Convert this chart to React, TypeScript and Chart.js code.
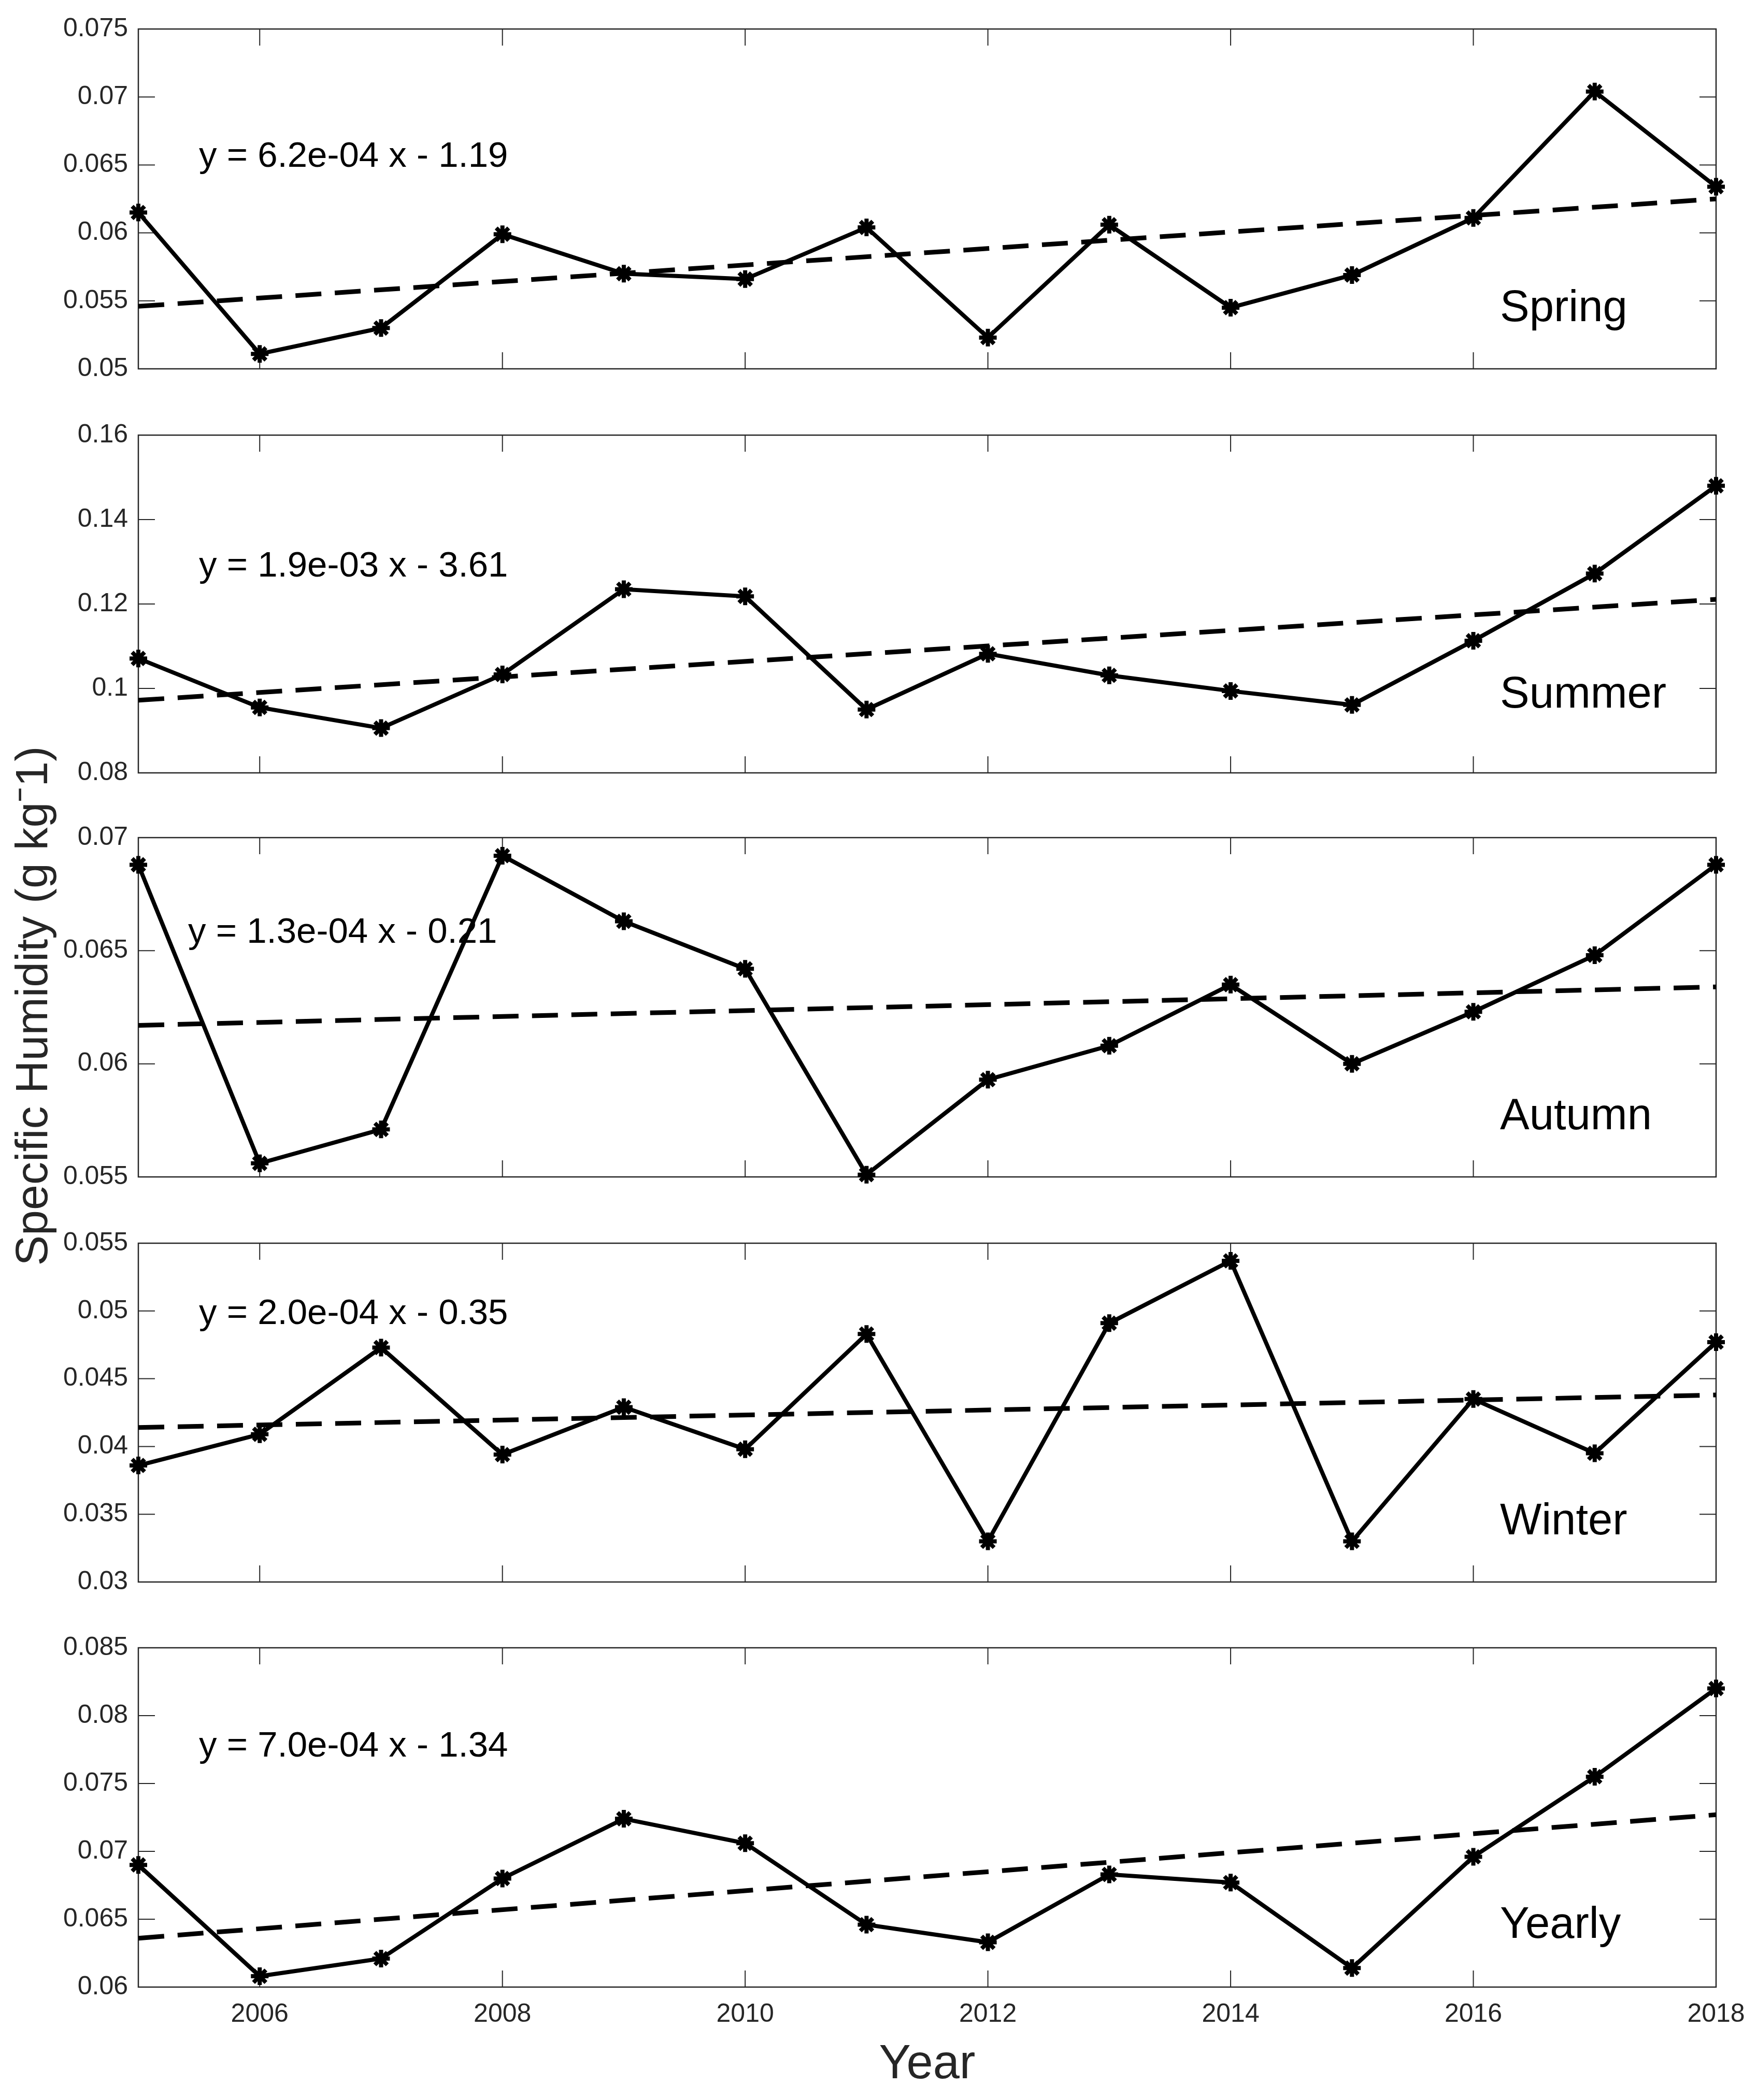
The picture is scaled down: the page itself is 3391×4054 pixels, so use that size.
import React, { useEffect, useRef } from 'react';
import { Chart, registerables } from 'chart.js';

Chart.register(...registerables);
Chart.defaults.font.family = '"Liberation Sans", Arial, Helvetica, sans-serif';

// ---------------- data ----------------
const years = [2005, 2006, 2007, 2008, 2009, 2010, 2011, 2012, 2013, 2014, 2015, 2016, 2017, 2018];

const spring = [0.0615, 0.0511, 0.0530, 0.0599, 0.0570, 0.0566, 0.0604, 0.0523, 0.0606, 0.0545, 0.0569, 0.0611, 0.0704, 0.0634];
const summer = [0.1071, 0.0955, 0.0906, 0.1033, 0.1235, 0.1218, 0.0950, 0.1082, 0.1031, 0.0994, 0.0961, 0.1113, 0.1272, 0.1480];
const autumn = [0.0688, 0.0556, 0.0571, 0.0692, 0.0663, 0.0642, 0.0551, 0.0593, 0.0608, 0.0635, 0.0600, 0.0623, 0.0648, 0.0688];
const winter = [0.0386, 0.0409, 0.0473, 0.0394, 0.0429, 0.0398, 0.0483, 0.0330, 0.0491, 0.0537, 0.0330, 0.0435, 0.0395, 0.0477];
const yearly = [0.0690, 0.0608, 0.0621, 0.0680, 0.0724, 0.0706, 0.0646, 0.0633, 0.0683, 0.0677, 0.0614, 0.0696, 0.0755, 0.0820];

const seriesList = [spring, summer, autumn, winter, yearly];
const seasonNames = ['Spring', 'Summer', 'Autumn', 'Winter', 'Yearly'];
const equations = [
  'y = 6.2e-04 x - 1.19',
  'y = 1.9e-03 x - 3.61',
  'y = 1.3e-04 x - 0.21',
  'y = 2.0e-04 x - 0.35',
  'y = 7.0e-04 x - 1.34',
];

// linear trend end points (value at 2005 and at 2018)
const trendStart = [0.0546, 0.0972, 0.0617, 0.0414, 0.0636];
const trendEnd = [0.0625, 0.1211, 0.0634, 0.0438, 0.0727];

const springTicks = [0.05, 0.055, 0.06, 0.065, 0.07, 0.075];
const summerTicks = [0.08, 0.1, 0.12, 0.14, 0.16];
const autumnTicks = [0.055, 0.06, 0.065, 0.07];
const winterTicks = [0.03, 0.035, 0.04, 0.045, 0.05, 0.055];
const yearlyTicks = [0.06, 0.065, 0.07, 0.075, 0.08, 0.085];
const yTickList = [springTicks, summerTicks, autumnTicks, winterTicks, yearlyTicks];

const xTicks = [2006, 2008, 2010, 2012, 2014, 2016, 2018];
const xMin = 2005;
const xMax = 2018;

const xLabel = 'Year';
const yLabel = 'Specific Humidity (g kg\u207B1)';

// ---------------- layout ----------------
const W = 3391;
const H = 4054;
const PLOT_LEFT = 267;
const PLOT_RIGHT = 3312;
const panelTops = [56, 840, 1617, 2400, 3181];
const panelBottoms = [712, 1492, 2272, 3054, 3836];
const TOP_MARGIN = 50;
const eqXOff = [117, 117, 96, 117, 117];
const eqBaseOff = [266, 273, 203, 156, 210];
const seasonX = 2895;
const seasonBaseOff = [564, 526, 563, 562, 560];

const FONT = '"Liberation Sans", Arial, Helvetica, sans-serif';
const AXIS_COLOR = '#262626';

function fmt(v: number): string {
  return parseFloat(v.toFixed(4)).toString();
}

function Panel({ idx }: { idx: number }) {
  const ref = useRef<HTMLCanvasElement | null>(null);
  const isLast = idx === seriesList.length - 1;
  const bottomMargin = isLast ? H - panelBottoms[idx] : 50;
  const canvasTop = panelTops[idx] - TOP_MARGIN;
  const canvasH = panelBottoms[idx] - panelTops[idx] + TOP_MARGIN + bottomMargin;

  useEffect(() => {
    const canvas = ref.current;
    if (!canvas) return;
    const series = seriesList[idx];
    const yTicks = yTickList[idx];

    const framePlugin = {
      id: 'frame' + idx,
      beforeDatasetsDraw(chart: any) {
        const { ctx, chartArea: a, scales } = chart;
        const x = scales.x;
        const y = scales.y;
        ctx.save();
        ctx.strokeStyle = AXIS_COLOR;
        ctx.lineWidth = 2.5;
        ctx.strokeRect(a.left, a.top, a.right - a.left, a.bottom - a.top);
        ctx.lineWidth = 2;
        ctx.beginPath();
        const tl = 32;
        for (const v of xTicks) {
          const px = x.getPixelForValue(v);
          ctx.moveTo(px, a.bottom);
          ctx.lineTo(px, a.bottom - tl);
          ctx.moveTo(px, a.top);
          ctx.lineTo(px, a.top + tl);
        }
        for (const v of yTicks) {
          const py = y.getPixelForValue(v);
          ctx.moveTo(a.left, py);
          ctx.lineTo(a.left + tl, py);
          ctx.moveTo(a.right, py);
          ctx.lineTo(a.right - tl, py);
        }
        ctx.stroke();
        ctx.restore();
      },
      afterDatasetsDraw(chart: any) {
        const { ctx, chartArea: a } = chart;
        ctx.save();
        ctx.fillStyle = '#000';
        ctx.textBaseline = 'alphabetic';
        ctx.textAlign = 'left';
        ctx.font = `69px ${FONT}`;
        ctx.fillText(equations[idx], a.left + eqXOff[idx], a.top + eqBaseOff[idx]);
        ctx.font = `85px ${FONT}`;
        ctx.fillText(seasonNames[idx], seasonX, a.top + seasonBaseOff[idx]);
        if (isLast) {
          ctx.fillStyle = AXIS_COLOR;
          ctx.textAlign = 'center';
          ctx.font = `92px ${FONT}`;
          ctx.fillText(xLabel, (a.left + a.right) / 2, a.bottom + 176);
        }
        ctx.restore();
      },
    };

    const chart = new Chart(canvas, {
      type: 'line',
      data: {
        datasets: [
          {
            label: 'trend',
            data: [
              { x: xMin, y: trendStart[idx] },
              { x: xMax, y: trendEnd[idx] },
            ],
            borderColor: '#000',
            borderWidth: 9,
            borderDash: [50, 26],
            pointRadius: 0,
            fill: false,
            tension: 0,
            clip: false as any,
            order: 1,
          },
          {
            label: seasonNames[idx],
            data: years.map((yr, j) => ({ x: yr, y: series[j] })),
            borderColor: '#000',
            borderWidth: 8,
            pointStyle: 'star',
            pointRadius: 17,
            pointBorderWidth: 8,
            pointBorderColor: '#000',
            pointBackgroundColor: '#000',
            fill: false,
            tension: 0,
            clip: false as any,
            order: 2,
          },
        ],
      },
      options: {
        responsive: false,
        animation: false,
        events: [],
        layout: { padding: { top: TOP_MARGIN, right: W - PLOT_RIGHT, left: 0, bottom: 0 } },
        plugins: {
          legend: { display: false },
          tooltip: { enabled: false },
          title: { display: false },
        },
        scales: {
          x: {
            type: 'linear',
            min: xMin,
            max: xMax,
            grid: { display: false, drawTicks: false, tickLength: 0 },
            border: { display: false },
            afterBuildTicks: (s: any) => {
              s.ticks = xTicks.map((v) => ({ value: v }));
            },
            afterFit: (s: any) => {
              s.height = bottomMargin;
            },
            ticks: {
              display: isLast,
              autoSkip: false,
              maxRotation: 0,
              minRotation: 0,
              padding: 23,
              color: AXIS_COLOR,
              font: { size: 50, family: FONT },
              callback: (v: any) => String(v),
            },
          },
          y: {
            type: 'linear',
            min: yTicks[0],
            max: yTicks[yTicks.length - 1],
            grid: { display: false, drawTicks: false, tickLength: 0 },
            border: { display: false },
            afterBuildTicks: (s: any) => {
              s.ticks = yTicks.map((v) => ({ value: v }));
            },
            afterFit: (s: any) => {
              s.width = PLOT_LEFT;
            },
            ticks: {
              autoSkip: false,
              padding: 20,
              color: AXIS_COLOR,
              font: { size: 50, family: FONT },
              callback: (v: any) => fmt(Number(v)),
            },
          },
        },
      } as any,
      plugins: [framePlugin],
    });
    return () => chart.destroy();
  }, [idx]);

  return (
    <canvas
      ref={ref}
      width={W}
      height={canvasH}
      style={{ position: 'absolute', left: 0, top: canvasTop, width: W, height: canvasH }}
    />
  );
}

export default function App() {
  const labelW = 1400;
  const fs = 88;
  const labelCx = 61;
  const labelCy = 1942;
  return (
    <div
      style={{
        position: 'absolute',
        left: 0,
        top: 0,
        width: W,
        height: H,
        background: '#fff',
        overflow: 'hidden',
      }}
    >
      {seriesList.map((_, i) => (
        <Panel key={i} idx={i} />
      ))}
      <div
        style={{
          position: 'absolute',
          left: labelCx - labelW / 2,
          top: labelCy - fs / 2,
          width: labelW,
          height: fs,
          lineHeight: `${fs}px`,
          fontSize: fs,
          fontFamily: FONT,
          color: AXIS_COLOR,
          textAlign: 'center',
          whiteSpace: 'nowrap',
          transform: 'rotate(-90deg)',
          transformOrigin: '50% 50%',
        }}
      >
        {yLabel}
      </div>
    </div>
  );
}
